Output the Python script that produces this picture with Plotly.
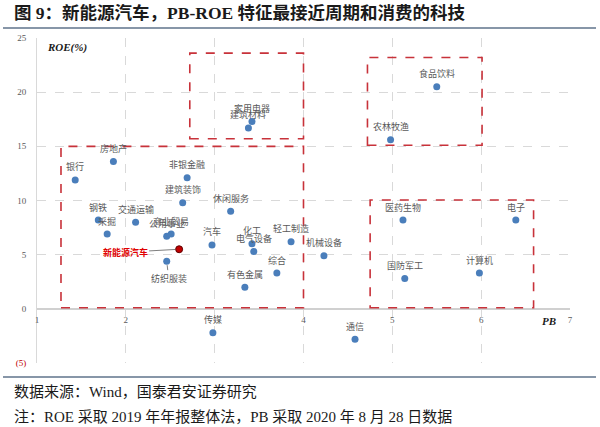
import plotly.graph_objects as go

# ---------------- data ----------------
industries = ["银行", "房地产", "钢铁", "采掘", "交通运输", "商业贸易", "公用事业",
              "新能源汽车", "纺织服装", "非银金融", "建筑装饰", "休闲服务", "汽车",
              "化工", "电气设备", "轻工制造", "综合", "有色金属", "机械设备",
              "传媒", "通信", "家用电器", "建筑材料", "食品饮料", "农林牧渔",
              "医药生物", "电子", "国防军工", "计算机"]
pb = [1.43, 1.86, 1.69, 1.79, 2.11, 2.51, 2.46,
      2.60, 2.46, 2.69, 2.64, 3.18, 2.97,
      3.42, 3.44, 3.86, 3.70, 3.34, 4.23,
      2.98, 4.58, 3.42, 3.38, 5.50, 4.98,
      5.12, 6.39, 5.14, 5.98]
roe = [11.9, 13.6, 8.2, 6.9, 8.0, 6.9, 6.7,
       5.5, 4.4, 12.1, 9.8, 9.0, 5.9,
       6.0, 5.3, 6.2, 3.3, 2.0, 4.9,
       -2.2, -2.8, 17.3, 16.7, 20.5, 15.6,
       8.2, 8.2, 2.8, 3.3]
highlight = "新能源汽车"

# dashed boxes (PB from/to, ROE from/to)
box_pb0 = [1.27, 2.72, 4.72, 4.75]
box_pb1 = [4.00, 4.00, 6.01, 6.59]
box_roe0 = [0.1, 15.7, 15.1, 0.1]
box_roe1 = [15.0, 23.6, 23.2, 10.05]

y_tickvals = [-5, 0, 5, 10, 15, 20, 25]
y_ticktext = ["<span style='color:#c00000'>(5)</span>", "0", "5", "10", "15", "20", "25"]
x_tickvals = [1, 2, 3, 4, 5, 6, 7]
x_ticktext = ["1", "2", "", "4", "5", "6", "7"]

title = "图 9：新能源汽车，PB-ROE 特征最接近周期和消费的科技"
source = "数据来源：Wind，国泰君安证券研究"
note = "注：ROE 采取 2019 年年报整体法，PB 采取 2020 年 8 月 28 日数据"

# ---------------- figure ----------------
CJK = "Liberation Serif, Noto Sans CJK SC"
LBL = "Noto Sans CJK SC"
BLUE = "#4a7ebb"
RED = "#c8323a"

fig = go.Figure()
others = [i for i, n in enumerate(industries) if n != highlight]
hi = industries.index(highlight)

fig.add_trace(go.Scatter(
    x=[pb[i] for i in others], y=[roe[i] for i in others], mode="markers",
    marker=dict(color=BLUE, size=7), hoverinfo="skip", showlegend=False))
fig.add_trace(go.Scatter(
    x=[pb[hi]], y=[roe[hi]], mode="markers",
    marker=dict(color="#c00000", size=7, line=dict(color="#600000", width=1)),
    hoverinfo="skip", showlegend=False))

annotations = []
for i, name in enumerate(industries):
    if name == highlight:
        annotations.append(dict(x=pb[i], y=roe[i], xref="x", yref="y",
                                text="<b>" + name + "</b>", showarrow=True,
                                arrowhead=0, arrowwidth=1, arrowcolor="#7f7f7f",
                                ax=-54, ay=3, standoff=4,
                                font=dict(family=LBL, size=9, color="#e00000")))
    elif name == "纺织服装":
        annotations.append(dict(x=pb[i], y=roe[i], xref="x", yref="y",
                                text=name, showarrow=True, arrowhead=0,
                                arrowwidth=1, arrowcolor="#7f7f7f",
                                ax=2, ay=17, standoff=4,
                                font=dict(family=LBL, size=9, color="#595959")))
    else:
        annotations.append(dict(x=pb[i], y=roe[i], xref="x", yref="y",
                                text=name, showarrow=False, yshift=13,
                                font=dict(family=LBL, size=9, color="#595959")))

# axis titles
annotations.append(dict(x=0.015, y=0.97, xref="paper", yref="paper",
                        xanchor="left", yanchor="middle", showarrow=False,
                        text="<b><i>ROE(%)</i></b>",
                        font=dict(family="Liberation Serif", size=11, color="#1a1a1a")))
annotations.append(dict(x=0.961, y=(363 - 321) / 325, xref="paper", yref="paper",
                        xanchor="center", yanchor="middle", showarrow=False,
                        text="<b><i>PB</i></b>",
                        font=dict(family="Liberation Serif", size=11, color="#1a1a1a")))
# title and footer
annotations.append(dict(x=(12 - 37) / 533, y=(363 - 13) / 325, xref="paper", yref="paper",
                        xanchor="left", yanchor="middle", showarrow=False,
                        text="<b>" + title + "</b>",
                        font=dict(family=CJK, size=17.5, color="#1a1a1a")))
annotations.append(dict(x=(12 - 37) / 533, y=(363 - 392) / 325, xref="paper", yref="paper",
                        xanchor="left", yanchor="middle", showarrow=False,
                        text=source, font=dict(family=CJK, size=15, color="#1a1a1a")))
annotations.append(dict(x=(12 - 37) / 533, y=(363 - 417) / 325, xref="paper", yref="paper",
                        xanchor="left", yanchor="middle", showarrow=False,
                        text=note, font=dict(family=CJK, size=15, color="#1a1a1a")))

shapes = []
for x0, x1, y0, y1 in zip(box_pb0, box_pb1, box_roe0, box_roe1):
    shapes.append(dict(type="rect", xref="x", yref="y", x0=x0, x1=x1, y0=y0, y1=y1,
                       line=dict(color=RED, width=1.6, dash="dash"),
                       fillcolor="rgba(0,0,0,0)"))
# title underline and footer rule
shapes.append(dict(type="line", xref="paper", yref="paper",
                   x0=(3 - 37) / 533, x1=(596 - 37) / 533,
                   y0=(363 - 28) / 325, y1=(363 - 28) / 325,
                   line=dict(color="#8796a8", width=2)))
shapes.append(dict(type="line", xref="paper", yref="paper",
                   x0=(3 - 37) / 533, x1=(596 - 37) / 533,
                   y0=(363 - 377) / 325, y1=(363 - 377) / 325,
                   line=dict(color="#8796a8", width=2)))

fig.update_layout(
    width=600, height=427,
    margin=dict(l=37, r=30, t=38, b=64),
    paper_bgcolor="white", plot_bgcolor="white",
    showlegend=False,
    annotations=annotations,
    shapes=shapes,
    xaxis=dict(range=[1, 7], tickvals=x_tickvals, ticktext=x_ticktext,
               showgrid=True, gridcolor="#d9d9d9", griddash="dash", gridwidth=1,
               zeroline=False, showline=True, linecolor="#d0d0d0", linewidth=1.5,
               anchor="free", position=5 / 30,
               ticks="outside", ticklen=3, tickcolor="rgba(0,0,0,0)",
               tickfont=dict(family="Liberation Serif", size=9, color="#595959"),
               fixedrange=True),
    yaxis=dict(range=[-5, 25], tickvals=y_tickvals, ticktext=y_ticktext,
               showgrid=True, gridcolor="#d9d9d9", griddash="dash", gridwidth=1,
               zeroline=False, showline=True, linecolor="#d9d9d9", linewidth=1,
               ticks="outside", ticklen=8, tickcolor="rgba(0,0,0,0)",
               tickfont=dict(family="Liberation Serif", size=9, color="#595959"),
               fixedrange=True),
)

fig.write_html("out.html")
